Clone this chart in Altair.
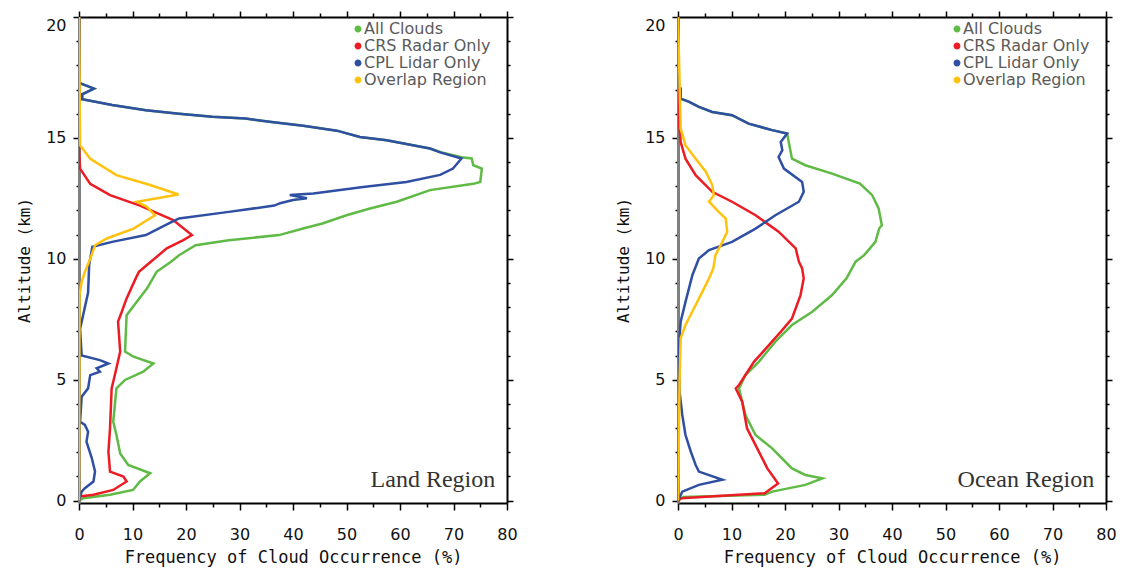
import altair as alt
import pandas as pd

# ---------------------------------------------------------------------------
# Vertical profiles of cloud occurrence frequency (%) versus altitude (km)
# ---------------------------------------------------------------------------
SERIES = ["All Clouds", "CRS Radar Only", "CPL Lidar Only", "Overlap Region"]
COLORS = ["#5fba46", "#ec1c24", "#2f4fa2", "#ffc20e"]
REGIONS = ["Land Region", "Ocean Region"]

# Land region
land_all_alt = [20, 17.3, 17.25, 17.04, 16.8, 16.6, 16.36, 16.14, 16.0, 15.87, 15.8, 15.66, 15.5, 15.3,
                15.04, 14.9, 14.56, 14.4, 14.2, 14.15, 13.87, 13.73, 13.18, 13.1, 12.84, 12.36, 12.08,
                11.8, 11.46, 11.25, 10.98, 10.77, 10.56, 10.15, 9.88, 9.46, 8.77, 8.22, 7.67, 6.16, 5.95,
                5.67, 5.33, 4.99, 4.64, 3.26, 2.71, 1.95, 1.47, 1.13, 0.79, 0.44, 0.24, 0.1, 0]
land_all_freq = [0, 0, 0.3, 2.8, 0.6, 0.6, 6.2, 12.5, 18.7, 24.9, 31.1, 36.0, 41.9, 48.2,
                 52.5, 57.5, 65.6, 67.8, 71.5, 73.4, 73.7, 75.3, 75.0, 73.7, 65.6, 59.4, 54.4,
                 50.0, 45.5, 41.9, 37.4, 28.0, 21.8, 18.7, 17.2, 14.5, 12.7, 10.8, 8.9, 8.6, 10.2,
                 13.9, 12.0, 8.6, 7.0, 6.4, 7.0, 7.7, 9.2, 13.3, 11.4, 10.1, 5.8, 0.8, 0]

land_crs_alt = [20, 14.56, 13.73, 13.1, 12.63, 12.2, 11.6, 10.98, 10.77, 10.43, 9.74, 9.46, 9.19,
                8.36, 7.81, 7.4, 6.16, 5.19, 4.64, 2.99, 2.02, 1.2, 0.99, 0.79, 0.44, 0.24, 0.17, 0]
land_crs_freq = [0, 0, 0.2, 2.1, 5.8, 11.4, 17.6, 21.1, 19.5, 16.4, 12.7, 11.2, 10.6,
                 8.9, 8.0, 7.3, 7.7, 6.7, 6.1, 5.8, 5.5, 5.8, 8.3, 8.9, 6.4, 2.7, 0.2, 0]

land_cpl_alt = [20, 17.3, 17.25, 17.04, 16.8, 16.6, 16.36, 16.14, 16.0, 15.87, 15.8, 15.66, 15.5, 15.3,
                15.04, 14.9, 14.56, 14.4, 14.15, 13.73, 13.47, 13.18, 12.97, 12.7, 12.64, 12.5, 12.43,
                12.3, 12.2, 11.94, 11.67, 11.46, 10.98, 10.7, 10.5, 9.75, 8.6, 7.1, 6.0, 5.81, 5.67,
                5.47, 5.33, 5.19, 4.64, 4.3, 3.26, 3.13, 2.85, 2.44, 1.75, 1.2, 0.79, 0.51, 0.37, 0]
land_cpl_freq = [0, 0, 0.3, 2.8, 0.6, 0.6, 6.2, 12.5, 18.7, 24.9, 31.1, 36.0, 41.9, 48.2,
                 52.5, 57.5, 65.6, 67.5, 71.5, 69.9, 67.5, 61.2, 53.1, 43.8, 39.4, 42.6, 40.0,
                 37.6, 36.5, 28.0, 18.7, 16.8, 12.5, 6.2, 2.5, 1.9, 1.7, 0.2, 0.5, 3.9, 5.5,
                 3.3, 3.9, 2.1, 1.7, 0.5, 0.2, 1.1, 1.7, 1.4, 2.4, 3.0, 2.7, 1.1, 0.5, 0]

land_ovl_alt = [20, 14.7, 14.14, 13.46, 13.05, 12.66, 12.36, 12.15, 11.8, 11.25, 10.84, 10.56,
                10.0, 9.46, 9.05, 8.5, 0]
land_ovl_freq = [0, 0.2, 2.1, 7.0, 13.3, 18.6, 10.8, 12.7, 14.2, 10.2, 5.2, 3.0,
                 2.1, 1.1, 0.5, 0.1, 0]

# Ocean region
ocean_all_alt = [20, 17.1, 17.04, 16.62, 16.49, 16.28, 16.07, 15.94, 15.59, 15.32, 15.18, 14.83,
                 14.14, 13.87, 13.52, 13.11, 12.63, 12.08, 11.39, 11.25, 10.7, 10.15, 9.88, 9.19,
                 8.5, 7.81, 7.26, 6.57, 5.74, 5.19, 4.64, 3.54, 2.71, 2.16, 1.33, 1.06, 0.92,
                 0.65, 0.37, 0.24, 0.15, 0]
ocean_all_freq = [0, 0, 0.5, 0.5, 2.1, 3.9, 6.4, 10.1, 13.2, 17.6, 20.4, 20.7,
                  21.3, 23.8, 28.8, 34.0, 36.3, 37.5, 38.1, 37.6, 36.9, 34.8, 33.2, 31.5,
                  28.8, 25.1, 21.3, 18.2, 15.1, 12.6, 11.4, 12.6, 14.5, 17.6, 21.3, 23.8, 27.0,
                  23.8, 17.6, 16.2, 1.0, 0]

ocean_crs_alt = [20, 15.66, 14.83, 14.14, 13.46, 12.77, 12.36, 11.8, 11.12, 10.43, 9.88, 9.6,
                 9.19, 8.5, 7.53, 6.98, 6.43, 5.74, 4.78, 4.64, 4.09, 2.99, 2.16, 1.33, 0.71,
                 0.3, 0.1, 0]
ocean_crs_freq = [0, 0.2, 0.5, 1.4, 3.3, 6.4, 10.1, 14.5, 18.8, 22.0, 22.6, 23.2,
                  23.5, 22.9, 21.3, 19.2, 17.0, 14.2, 11.4, 10.8, 12.0, 12.9, 14.8, 16.7, 18.7,
                  16.2, 0.6, 0]

ocean_cpl_alt = [20, 17.1, 17.04, 16.62, 16.49, 16.28, 16.07, 15.94, 15.59, 15.32, 15.18, 14.83,
                 14.49, 14.21, 13.73, 13.18, 12.77, 12.36, 11.8, 11.25, 10.7, 10.36, 10.01, 9.33,
                 8.22, 7.4, 6.5, 4.5, 3.54, 2.71, 2.02, 1.47, 1.2, 0.86, 0.65, 0.37, 0]
ocean_cpl_freq = [0, 0, 0.5, 0.5, 2.1, 3.9, 6.4, 10.1, 13.2, 17.6, 20.4, 19.2,
                  19.5, 18.8, 19.8, 23.2, 23.5, 22.6, 18.2, 14.5, 10.1, 5.8, 3.9, 2.7,
                  1.4, 0.5, 0.2, 0.3, 0.8, 1.4, 2.4, 3.3, 3.9, 8.3, 3.9, 0.8, 0]

ocean_ovl_alt = [20, 15.38, 14.7, 14.14, 13.6, 13.05, 12.63, 12.36, 11.94, 11.67, 11.12, 10.7,
                 10.15, 9.6, 9.19, 8.09, 7.26, 6.71, 5.0, 0]
ocean_ovl_freq = [0, 0.5, 1.4, 3.3, 5.2, 6.4, 6.7, 5.8, 7.6, 8.9, 9.2, 8.3,
                  7.0, 6.6, 5.8, 3.3, 1.4, 0.5, 0.3, 0]

PROFILES = {
    "Land Region": [(land_all_alt, land_all_freq), (land_crs_alt, land_crs_freq),
                    (land_cpl_alt, land_cpl_freq), (land_ovl_alt, land_ovl_freq)],
    "Ocean Region": [(ocean_all_alt, ocean_all_freq), (ocean_crs_alt, ocean_crs_freq),
                     (ocean_cpl_alt, ocean_cpl_freq), (ocean_ovl_alt, ocean_ovl_freq)],
}

X_TICKS = list(range(0, 81, 5))
Y_TICKS = list(range(0, 21, 1))
X_DOMAIN = [0, 80]
Y_DOMAIN = [-0.1, 20]

PLOT_W = 428
PLOT_H = 486

TICK_FONT = "DejaVu Sans"
TITLE_FONT = "DejaVu Sans Mono"


def profile_frame(region):
    rows = []
    for k, (alts, freqs) in enumerate(PROFILES[region]):
        for i, (a, f) in enumerate(zip(alts, freqs)):
            rows.append({"series": SERIES[k], "draw": k, "seq": i, "alt_km": a, "freq": f})
    return pd.DataFrame(rows)


def major_size(step, big, small):
    return {"condition": {"test": f"datum.value % {step} === 0", "value": big}, "value": small}


def panel(region):
    df = profile_frame(region)
    xs = alt.Scale(domain=X_DOMAIN, nice=False, zero=False)
    ys = alt.Scale(domain=Y_DOMAIN, nice=False, zero=False)

    x_bottom = alt.Axis(
        orient="bottom", values=X_TICKS, title="Frequency of Cloud Occurrence (%)",
        labelExpr="datum.value % 10 === 0 ? datum.label : ''",
        tickSize=major_size(10, 7, 4), labelPadding=16, labelFlush=False, labelOverlap=False,
        titlePadding=7, titleFontSize=17, grid=False,
    )
    y_left = alt.Axis(
        orient="left", values=Y_TICKS, title="Altitude (km)",
        labelExpr="datum.value % 5 === 0 ? datum.label : ''",
        tickSize=major_size(5, 6, 3), labelPadding=7, labelFlush=True, labelOverlap=False,
        titlePadding=13, grid=False, domainColor="#808080", domainWidth=3,
    )
    x_top = alt.Axis(orient="top", values=X_TICKS, labels=False, title=None,
                     tickSize=major_size(10, 6, 4), grid=False)
    y_right = alt.Axis(orient="right", values=Y_TICKS, labels=False, title=None,
                       tickSize=major_size(5, 6, 3), grid=False)

    lines = alt.Chart(df).mark_line(strokeWidth=2.5, clip=True).encode(
        x=alt.X("freq:Q", scale=xs, axis=x_bottom),
        y=alt.Y("alt_km:Q", scale=ys, axis=y_left),
        color=alt.Color(
            "series:N",
            scale=alt.Scale(domain=SERIES, range=COLORS),
            legend=alt.Legend(
                title=None, orient="none", legendX=271, legendY=4,
                symbolType="circle", symbolSize=12, symbolStrokeWidth=3.5,
                labelFont=TICK_FONT, labelFontSize=16, labelColor="#5a5a5a",
                labelOffset={"expr": "-2"}, rowPadding={"expr": "-3"}, padding=0,
            ),
        ),
        detail="draw:N",
        order="seq:Q",
    )

    frame = alt.Chart(df).mark_point(opacity=0).encode(
        x=alt.X("freq:Q", scale=xs, axis=x_top),
        y=alt.Y("alt_km:Q", scale=ys, axis=y_right),
    )

    label = alt.Chart(pd.DataFrame({"name": [region], "x": [77.8], "y": [0.55]})).mark_text(
        align="right", baseline="alphabetic", font="Liberation Serif", fontSize=24, color="#333333",
    ).encode(
        x=alt.X("x:Q", scale=xs, axis=None),
        y=alt.Y("y:Q", scale=ys, axis=None),
        text="name:N",
    )

    return alt.layer(lines, frame, label).properties(width=PLOT_W, height=PLOT_H)


chart = alt.hconcat(*[panel(r) for r in REGIONS], spacing=97).resolve_legend(
    color="independent"
).properties(
    padding={"left": 16, "top": 10, "right": 5, "bottom": 5},
    background="white",
).configure_view(stroke=None).configure_axis(
    domainColor="black", domainWidth=2, tickColor="black", tickWidth=1.5,
    labelFont=TICK_FONT, labelFontSize=16, labelColor="#111111",
    titleFont=TITLE_FONT, titleFontSize=16, titleFontWeight="normal", titleColor="#111111",
)

chart.save("out.html", embed_options={"renderer": "svg", "actions": False})
